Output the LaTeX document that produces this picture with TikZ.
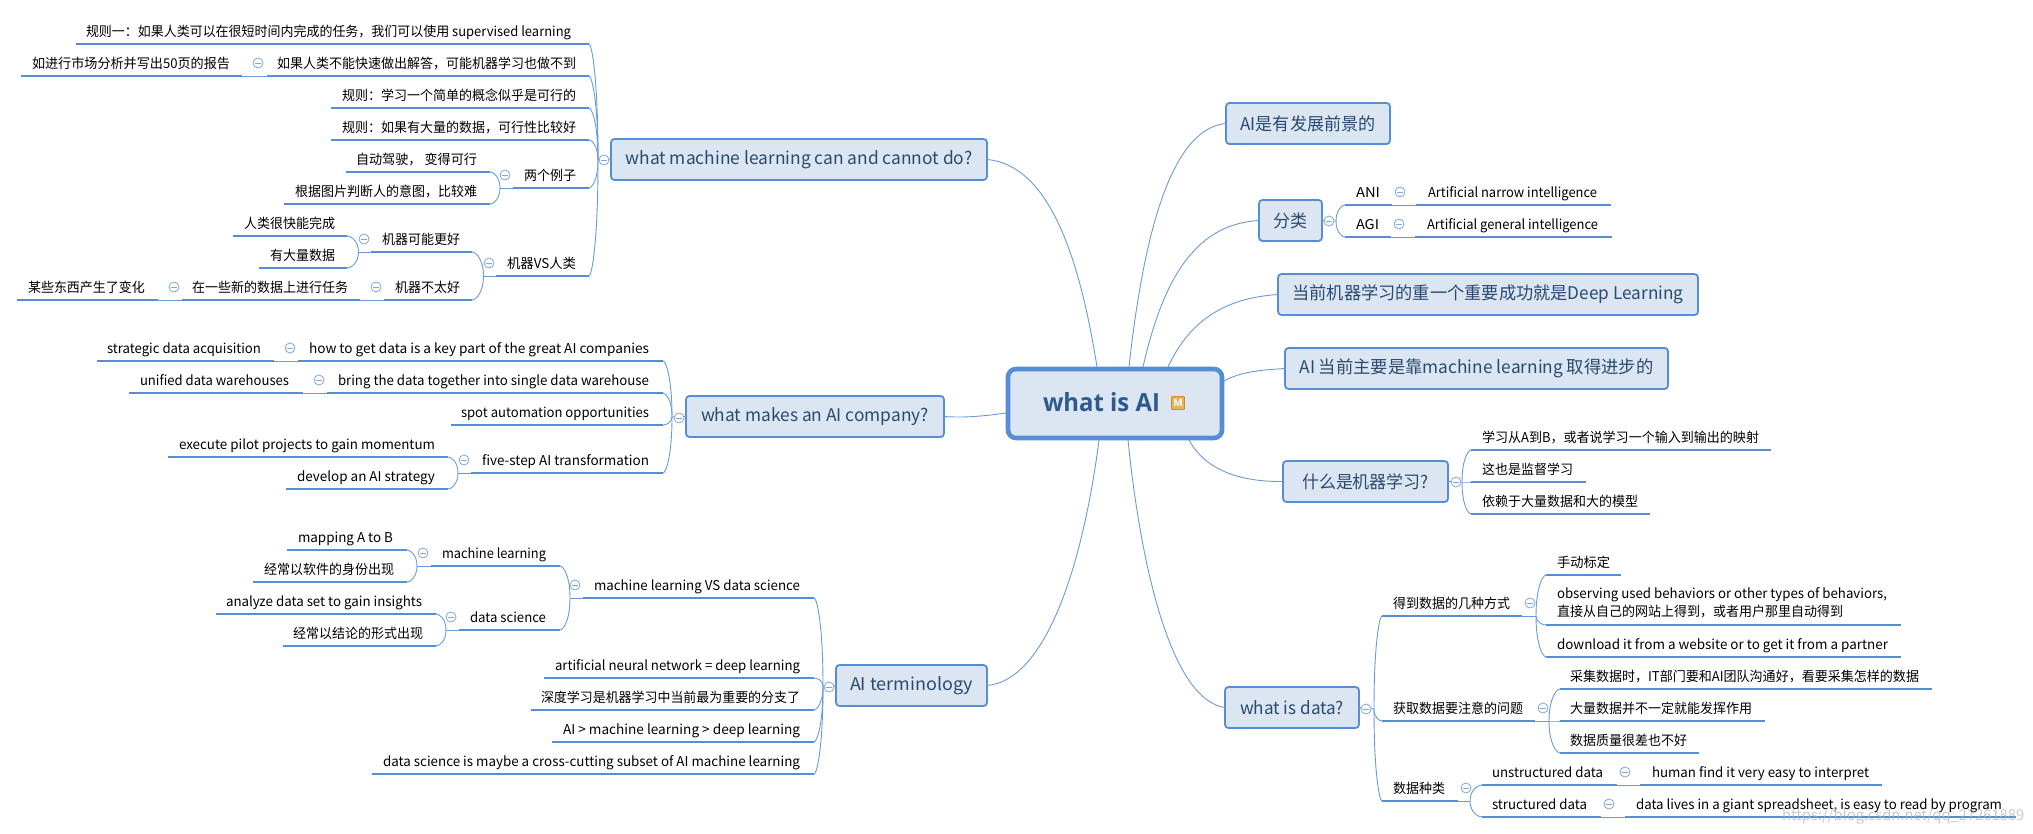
\documentclass[tikz,border=0pt]{standalone}
\usepackage{fontspec}
\usepackage{graphicx}
\usetikzlibrary{calc}
\setmainfont{Noto Sans CJK SC}
\newfontfamily\rootfont{Open Sans}
\definecolor{mapblue}{HTML}{558ED5}
\definecolor{thinblue}{HTML}{6A9ADA}
\definecolor{boxfill}{HTML}{DCE6F2}
\definecolor{boxtext}{HTML}{2A4A70}
\definecolor{roottext}{HTML}{2F5A90}
\definecolor{collblue}{HTML}{7FA6DE}
\definecolor{iconfill}{HTML}{E6B35C}
\definecolor{icondraw}{HTML}{C98F2E}
\tikzset{
  conn/.style={draw=thinblue,line width=0.9pt},
  underl/.style={draw=mapblue,line width=2.6pt},
  leaftext/.style={inner sep=0pt,outer sep=0pt,text=black,font=\fontsize{13.5}{18}\selectfont},
  topicbox/.style={rectangle,rounded corners=3.5pt,draw=mapblue,fill=boxfill,line width=1.8pt,inner sep=0pt,outer sep=0pt,text=boxtext,font=\fontsize{17.5}{20}\selectfont},
  rootbox/.style={rectangle,rounded corners=8pt,draw=mapblue,fill=boxfill,line width=4.6pt,inner sep=0pt,outer sep=0pt},
  roottxtst/.style={inner sep=0pt,text=roottext,font=\rootfont\bfseries\fontsize{25}{28}\selectfont},
  collcirc/.style={circle,draw=collblue,fill=white,line width=0.8pt,minimum size=10pt,inner sep=0pt,outer sep=0pt},
  iconbox/.style={rectangle,rounded corners=0.8pt,draw=icondraw,fill=iconfill,line width=0.8pt,minimum size=13pt,inner sep=0pt,text=white,font=\rootfont\bfseries\fontsize{10}{10}\selectfont},
  wmark/.style={inner sep=0pt,text=black!30,opacity=0.7,font=\fontsize{15}{16}\selectfont}
}
% name, line left, line right, line y, text left, text right, text
\newcommand{\leaf}[7]{%
  \coordinate (#1-l) at (#2,#4);
  \coordinate (#1-r) at (#3,#4);
  \pgfmathsetmacro\fitw{#6-#5}%
  \node[leaftext,anchor=base west] (#1) at (#5,{#4-7.5}) {\resizebox{\fitw pt}{\height}{#7}};
  \draw[underl] (#1-l) -- (#1-r);
}
% name, x1, x2, y1, y2, text width, text
\newcommand{\topic}[7]{%
  \pgfmathsetmacro\tw{#3-#2}%
  \pgfmathsetmacro\th{#5-#4}%
  \node[topicbox,minimum width=\tw pt,minimum height=\th pt] (#1) at ({(#2+#3)/2},{(#4+#5)/2}) {\resizebox{#6pt}{\height}{#7}};
}
\newcommand{\coll}[3]{%
  \node[collcirc] (#1) at (#2,#3) {};
  \draw[draw=collblue,line width=0.8pt] ($(#1.center)+(-2.6,0)$) -- ($(#1.center)+(2.6,0)$);
}
\newcommand{\brc}[2]{%
  \draw[conn] let \p1=(#1),\p2=(#2) in (#1) .. controls (\x1,{\y1+0.72*(\y2-\y1)}) and ({\x2+0.3*(\x1-\x2)},\y2) .. (#2);
}
\begin{document}
\begin{tikzpicture}[x=1pt,y=-1pt]
\useasboundingbox (0,0) rectangle (2033,834);
% ---------- root
\node[rootbox,minimum width=214pt,minimum height=69pt] (root) at (1115,403.5) {};
\node[roottxtst] (roottxt) at (1101.5,402) {\resizebox{117pt}{\height}{what is AI}};
\node[iconbox] (icon) at (1178,403) {M};
% ---------- main topics
\topic{t1}{611}{987}{139}{180}{347}{what machine learning can and cannot do?}
\topic{t2}{686}{944}{396}{437}{228}{what makes an AI company?}
\topic{t3}{836}{987}{665}{706}{123}{AI terminology}
\topic{r1}{1226}{1390}{103}{144}{135}{AI是有发展前景的}
\topic{r2}{1259}{1322}{200}{241}{34}{分类}
\topic{r3}{1278}{1698}{274}{315}{391}{当前机器学习的重一个重要成功就是Deep Learning}
\topic{r4}{1285}{1668}{348}{389}{354}{AI 当前主要是靠machine learning 取得进步的}
\topic{r5}{1283}{1448}{461}{502}{127}{什么是机器学习?}
\topic{r6}{1225}{1359}{687}{728}{104}{what is data?}
% ---------- root connectors
\draw[conn] ($(root.north west)+(89,-2)$) .. controls (1080,260) and (1050,165) .. (t1.east);
\draw[conn] ($(root.north west)+(-2,44)$) .. controls (985,416) and (965,418) .. (t2.east);
\draw[conn] ($(root.south west)+(91,2)$) .. controls (1085,550) and (1050,680) .. (t3.east);
\draw[conn] ($(root.north west)+(121,-2)$) .. controls (1145,220) and (1175,128) .. (r1.west);
\draw[conn] ($(root.north west)+(135,-2)$) .. controls (1165,270) and (1200,224) .. (r2.west);
\draw[conn] ($(root.north west)+(160,-2)$) .. controls (1190,320) and (1225,298) .. (r3.west);
\draw[conn] ($(root.north east)+(2,12)$) .. controls (1240,372) and (1260,370) .. (r4.west);
\draw[conn] ($(root.south west)+(181,2)$) .. controls (1205,470) and (1240,482) .. (r5.west);
\draw[conn] ($(root.south west)+(120,2)$) .. controls (1140,560) and (1170,700) .. (r6.west);
% ---------- tree 1
\coordinate (j1) at (598,160);
\coordinate (j1a) at (500,188);
\coordinate (j1b) at (483.5,276);
\coordinate (j1c) at (358.5,252);
\draw[conn] (t1.west) -- (j1);
\leaf{a1}{76}{589}{44}{86}{571}{规则一：如果人类可以在很短时间内完成的任务，我们可以使用 supervised learning}
\leaf{a2}{267}{589}{76}{277}{576}{如果人类不能快速做出解答，可能机器学习也做不到}
\leaf{a2x}{21}{242}{76}{32}{230}{如进行市场分析并写出50页的报告}
\leaf{a3}{331}{589}{108}{342}{576}{规则：学习一个简单的概念似乎是可行的}
\leaf{a4}{331}{589}{140}{342}{576}{规则：如果有大量的数据，可行性比较好}
\leaf{a5}{513}{589}{188}{524}{576}{两个例子}
\leaf{a5x}{346}{490}{172}{356}{477}{自动驾驶， 变得可行}
\leaf{a5y}{284}{490}{204}{295}{477}{根据图片判断人的意图，比较难}
\leaf{a6}{496}{589}{276}{507}{576}{机器VS人类}
\leaf{a6x}{371}{472}{252}{382}{460}{机器可能更好}
\leaf{a6p}{233}{347}{236}{244}{335}{人类很快能完成}
\leaf{a6q}{259}{347}{268}{270}{335}{有大量数据}
\leaf{a6y}{384}{472}{300}{395}{460}{机器不太好}
\leaf{a6m}{182}{360}{300}{192}{348}{在一些新的数据上进行任务}
\leaf{a6n}{17}{158}{300}{28}{145}{某些东西产生了变化}
\brc{j1}{a1-r}\brc{j1}{a2-r}\brc{j1}{a3-r}\brc{j1}{a4-r}\brc{j1}{a5-r}\brc{j1}{a6-r}
\draw[conn] (a2-l) -- (a2x-r);
\draw[conn] (a5-l) -- (j1a);
\brc{j1a}{a5x-r}\brc{j1a}{a5y-r}
\draw[conn] (a6-l) -- (j1b);
\brc{j1b}{a6x-r}\brc{j1b}{a6y-r}
\draw[conn] (a6x-l) -- (j1c);
\brc{j1c}{a6p-r}\brc{j1c}{a6q-r}
\draw[conn] (a6y-l) -- (a6m-r);
\draw[conn] (a6m-l) -- (a6n-r);
\coll{c1}{604}{160}
\coll{c1a}{258}{63}
\coll{c1b}{505}{175}
\coll{c1c}{489}{263}
\coll{c1d}{364}{239}
\coll{c1e}{376}{287}
\coll{c1f}{174}{287}
% ---------- tree 2
\coordinate (j2) at (672,417);
\coordinate (j2a) at (458,473);
\draw[conn] (t2.west) -- (j2);
\leaf{b1}{298}{663}{361}{309}{649}{how to get data is a key part of the great AI companies}
\leaf{b1x}{97}{274}{361}{107}{261}{strategic data acquisition}
\leaf{b2}{327}{663}{393}{338}{649}{bring the data together into single data warehouse}
\leaf{b2x}{129}{303}{393}{140}{289}{unified data warehouses}
\leaf{b3}{451}{663}{425}{461}{649}{spot automation opportunities}
\leaf{b4}{471}{663}{473}{482}{649}{five-step AI transformation}
\leaf{b4x}{168}{448}{457}{179}{435}{execute pilot projects to gain momentum}
\leaf{b4y}{286}{448}{489}{297}{435}{develop an AI strategy}
\brc{j2}{b1-r}\brc{j2}{b2-r}\brc{j2}{b3-r}\brc{j2}{b4-r}
\draw[conn] (b1-l) -- (b1x-r);
\draw[conn] (b2-l) -- (b2x-r);
\draw[conn] (b4-l) -- (j2a);
\brc{j2a}{b4x-r}\brc{j2a}{b4y-r}
\coll{c2}{679}{418}
\coll{c2a}{290}{348}
\coll{c2b}{319}{380}
\coll{c2c}{464}{460}
% ---------- tree 3
\coordinate (j3) at (823,686);
\coordinate (j3a) at (570,598);
\coordinate (j3b) at (417,566);
\coordinate (j3c) at (446,630);
\draw[conn] (t3.west) -- (j3);
\leaf{d1}{583}{814}{598}{594}{800}{machine learning VS data science}
\leaf{d1x}{431}{560}{566}{442}{546}{machine learning}
\leaf{d1p}{287}{407}{550}{298}{393}{mapping A to B}
\leaf{d1q}{253}{407}{582}{264}{394}{经常以软件的身份出现}
\leaf{d1y}{459}{560}{630}{470}{546}{data science}
\leaf{d1m}{216}{436}{614}{226}{422}{analyze data set to gain insights}
\leaf{d1n}{283}{436}{646}{293}{423}{经常以结论的形式出现}
\leaf{d2}{544}{814}{678}{555}{800}{artificial neural network = deep learning}
\leaf{d3}{531}{814}{710}{541}{800}{深度学习是机器学习中当前最为重要的分支了}
\leaf{d4}{552}{814}{742}{563}{800}{AI > machine learning > deep learning}
\leaf{d5}{372}{814}{774}{383}{800}{data science is maybe a cross-cutting subset of AI machine learning}
\brc{j3}{d1-r}\brc{j3}{d2-r}\brc{j3}{d3-r}\brc{j3}{d4-r}\brc{j3}{d5-r}
\draw[conn] (d1-l) -- (j3a);
\brc{j3a}{d1x-r}\brc{j3a}{d1y-r}
\draw[conn] (d1x-l) -- (j3b);
\brc{j3b}{d1p-r}\brc{j3b}{d1q-r}
\draw[conn] (d1y-l) -- (j3c);
\brc{j3c}{d1m-r}\brc{j3c}{d1n-r}
\coll{c3}{829}{687}
\coll{c3a}{575}{585}
\coll{c3b}{423}{553}
\coll{c3c}{451}{617}
% ---------- right: classification
\coordinate (j4) at (1336,221);
\draw[conn] (r2.east) -- (j4);
\leaf{e1}{1345}{1392}{205}{1356}{1380}{ANI}
\leaf{e1x}{1416}{1611}{205}{1428}{1597}{Artificial narrow intelligence}
\leaf{e2}{1345}{1391}{237}{1356}{1379}{AGI}
\leaf{e2x}{1415}{1612}{237}{1427}{1598}{Artificial general intelligence}
\brc{j4}{e1-l}\brc{j4}{e2-l}
\draw[conn] (e1-r) -- (e1x-l);
\draw[conn] (e2-r) -- (e2x-l);
\coll{c4}{1329}{221}
\coll{c4a}{1400}{192}
\coll{c4b}{1399}{224}
% ---------- right: what is ML
\coordinate (j5) at (1462,482);
\draw[conn] (r5.east) -- (j5);
\leaf{f1}{1471}{1771}{450}{1482}{1759}{学习从A到B，或者说学习一个输入到输出的映射}
\leaf{f2}{1471}{1586}{482}{1482}{1573}{这也是监督学习}
\leaf{f3}{1471}{1650}{514}{1482}{1638}{依赖于大量数据和大的模型}
\brc{j5}{f1-l}\brc{j5}{f2-l}\brc{j5}{f3-l}
\coll{c5}{1456}{482}
% ---------- right: what is data
\coordinate (j6) at (1374,709);
\coordinate (j6a) at (1536,616);
\coordinate (j6b) at (1549,721);
\coordinate (j6c) at (1470,801);
\draw[conn] (r6.east) -- (j6);
\leaf{g1}{1382}{1522}{616}{1393}{1510}{得到数据的几种方式}
\leaf{g1a}{1546}{1621}{575}{1557}{1610}{手动标定}
\coordinate (g1b-l) at (1546,625);
\coordinate (g1b-r) at (1901,625);
\node[leaftext,anchor=west,align=left] (g1b) at (1557,603) {\resizebox{330pt}{\height}{observing used behaviors or other types of behaviors,}\\\resizebox{286pt}{\height}{直接从自己的网站上得到，或者用户那里自动得到}};
\draw[underl] (g1b-l) -- (g1b-r);
\leaf{g1c}{1546}{1901}{657}{1557}{1888}{download it from a website or to get it from a partner}
\leaf{g2}{1382}{1535}{721}{1393}{1523}{获取数据要注意的问题}
\leaf{g2a}{1560}{1932}{689}{1570}{1919}{采集数据时，IT部门要和AI团队沟通好，看要采集怎样的数据}
\leaf{g2b}{1560}{1765}{721}{1570}{1752}{大量数据并不一定就能发挥作用}
\leaf{g2c}{1560}{1699}{753}{1570}{1687}{数据质量很差也不好}
\leaf{g3}{1382}{1458}{801}{1393}{1445}{数据种类}
\leaf{g3a}{1482}{1617}{785}{1492}{1603}{unstructured data}
\leaf{g3ax}{1640}{1882}{785}{1652}{1869}{human find it very easy to interpret}
\leaf{g3b}{1482}{1601}{817}{1492}{1587}{structured data}
\leaf{g3bx}{1625}{2016}{817}{1636}{2002}{data lives in a giant spreadsheet, is easy to read by program}
\brc{j6}{g1-l}\brc{j6}{g2-l}\brc{j6}{g3-l}
\draw[conn] (g1-r) -- (j6a);
\brc{j6a}{g1a-l}\brc{j6a}{g1b-l}\brc{j6a}{g1c-l}
\draw[conn] (g2-r) -- (j6b);
\brc{j6b}{g2a-l}\brc{j6b}{g2b-l}\brc{j6b}{g2c-l}
\draw[conn] (g3-r) -- (j6c);
\brc{j6c}{g3a-l}\brc{j6c}{g3b-l}
\draw[conn] (g3a-r) -- (g3ax-l);
\draw[conn] (g3b-r) -- (g3bx-l);
\coll{c6}{1366}{709}
\coll{c6a}{1530}{603}
\coll{c6b}{1543}{708}
\coll{c6c}{1466}{788}
\coll{c6d}{1625}{772}
\coll{c6e}{1609}{804}
% ---------- watermark
\node[wmark,anchor=west] (wm) at (1782,816) {\resizebox{242pt}{\height}{https://blog.csdn.net/qq\_27261889}};
\end{tikzpicture}
\end{document}
